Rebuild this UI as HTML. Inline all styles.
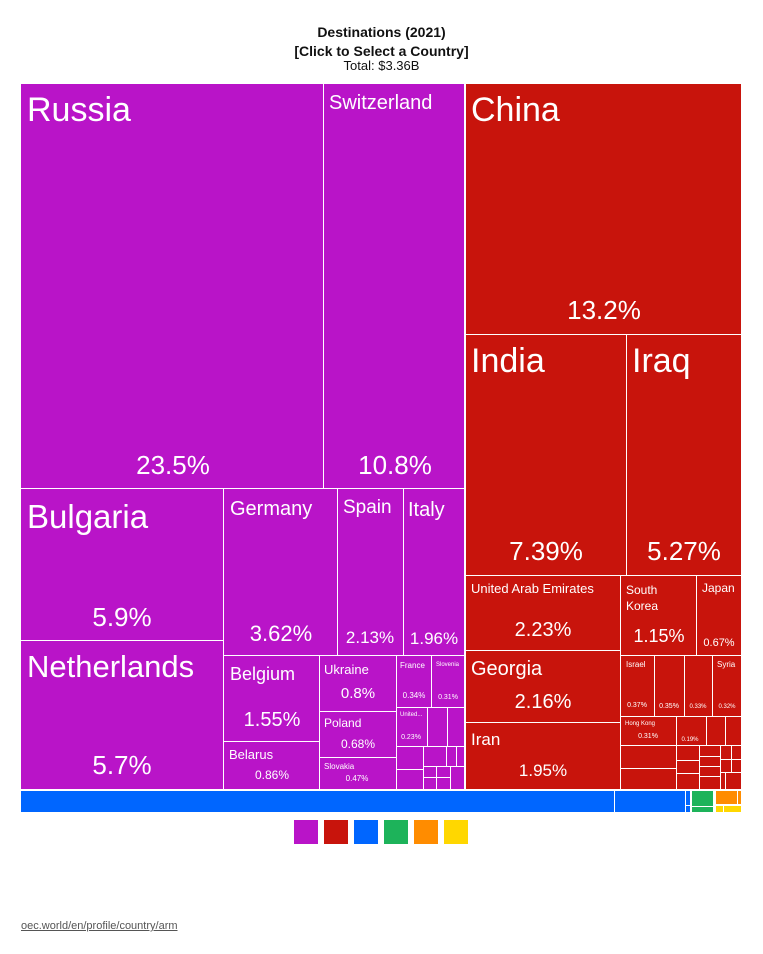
<!DOCTYPE html>
<html><head><meta charset="utf-8"><style>
body{margin:0;width:763px;height:954px;background:#fff;position:relative;font-family:"Liberation Sans",sans-serif;overflow:hidden}
.c{position:absolute}
.p{background:#b914c8}.r{background:#c8140c}.b{background:#0066ff}.g{background:#1db35a}.o{background:#ff8c00}.y{background:#ffd700}
.t{position:absolute;color:#fff;white-space:nowrap;line-height:1}
.m{position:absolute;color:#fff;white-space:nowrap;line-height:1;transform:translateX(-50%)}
</style></head><body>
<div class="t" style="color:#111;font-weight:bold;font-size:14px;left:0;width:763px;text-align:center;top:25px">Destinations (2021)</div>
<div class="t" style="color:#111;font-weight:bold;font-size:14px;left:0;width:763px;text-align:center;top:44px">[Click to Select a Country]</div>
<div class="t" style="color:#111;font-size:13px;left:0;width:763px;text-align:center;top:59px">Total: $3.36B</div>

<!-- purple -->
<div class="c p" style="left:21px;top:84px;width:302px;height:404px"></div>
<div class="t" style="left:27px;top:93px;font-size:34px">Russia</div>
<div class="m" style="left:173px;top:452px;font-size:26px">23.5%</div>
<div class="c p" style="left:324px;top:84px;width:140px;height:404px"></div>
<div class="t" style="left:329px;top:93px;font-size:20px">Switzerland</div>
<div class="m" style="left:395px;top:452px;font-size:26px">10.8%</div>
<div class="c p" style="left:21px;top:489px;width:202px;height:151px"></div>
<div class="t" style="left:27px;top:500px;font-size:33px">Bulgaria</div>
<div class="m" style="left:122px;top:604px;font-size:26px">5.9%</div>
<div class="c p" style="left:21px;top:641px;width:202px;height:148px"></div>
<div class="t" style="left:27px;top:651px;font-size:31px">Netherlands</div>
<div class="m" style="left:122px;top:752px;font-size:26px">5.7%</div>
<div class="c p" style="left:224px;top:489px;width:113px;height:166px"></div>
<div class="t" style="left:230px;top:499px;font-size:20px">Germany</div>
<div class="m" style="left:281px;top:623px;font-size:22px">3.62%</div>
<div class="c p" style="left:338px;top:489px;width:65px;height:166px"></div>
<div class="t" style="left:343px;top:498px;font-size:19px">Spain</div>
<div class="m" style="left:370px;top:629px;font-size:17px">2.13%</div>
<div class="c p" style="left:404px;top:489px;width:60px;height:166px"></div>
<div class="t" style="left:408px;top:500px;font-size:20px">Italy</div>
<div class="m" style="left:434px;top:630px;font-size:17px">1.96%</div>
<div class="c p" style="left:224px;top:656px;width:95px;height:85px"></div>
<div class="t" style="left:230px;top:665px;font-size:18px">Belgium</div>
<div class="m" style="left:272px;top:710px;font-size:20px">1.55%</div>
<div class="c p" style="left:224px;top:742px;width:95px;height:47px"></div>
<div class="t" style="left:229px;top:748px;font-size:13px">Belarus</div>
<div class="m" style="left:272px;top:769px;font-size:12px">0.86%</div>
<div class="c p" style="left:320px;top:656px;width:76px;height:55px"></div>
<div class="t" style="left:324px;top:663px;font-size:13px">Ukraine</div>
<div class="m" style="left:358px;top:686px;font-size:15px">0.8%</div>
<div class="c p" style="left:320px;top:712px;width:76px;height:45px"></div>
<div class="t" style="left:324px;top:717px;font-size:12px">Poland</div>
<div class="m" style="left:358px;top:738px;font-size:12px">0.68%</div>
<div class="c p" style="left:320px;top:758px;width:76px;height:31px"></div>
<div class="t" style="left:324px;top:763px;font-size:8px">Slovakia</div>
<div class="m" style="left:357px;top:775px;font-size:8px">0.47%</div>
<div class="c p" style="left:397px;top:656px;width:34px;height:51px"></div>
<div class="t" style="left:400px;top:662px;font-size:8px">France</div>
<div class="m" style="left:414px;top:692px;font-size:8px">0.34%</div>
<div class="c p" style="left:432px;top:656px;width:32px;height:51px"></div>
<div class="t" style="left:436px;top:662px;font-size:6px">Slovenia</div>
<div class="m" style="left:448px;top:694px;font-size:7px">0.31%</div>
<div class="c p" style="left:397px;top:708px;width:30px;height:38px"></div>
<div class="t" style="left:400px;top:712px;font-size:6px">United...</div>
<div class="m" style="left:411px;top:734px;font-size:7px">0.23%</div>
<div class="c p" style="left:428px;top:708px;width:19px;height:38px"></div>
<div class="c p" style="left:448px;top:708px;width:16px;height:38px"></div>
<div class="c p" style="left:397px;top:747px;width:26px;height:22px"></div>
<div class="c p" style="left:397px;top:770px;width:26px;height:19px"></div>
<div class="c p" style="left:424px;top:747px;width:22px;height:19px"></div>
<div class="c p" style="left:447px;top:747px;width:9px;height:19px"></div>
<div class="c p" style="left:457px;top:747px;width:7px;height:19px"></div>
<div class="c p" style="left:424px;top:767px;width:12px;height:10px"></div>
<div class="c p" style="left:437px;top:767px;width:13px;height:10px"></div>
<div class="c p" style="left:451px;top:767px;width:13px;height:22px"></div>
<div class="c p" style="left:424px;top:778px;width:12px;height:11px"></div>
<div class="c p" style="left:437px;top:778px;width:13px;height:11px"></div>

<!-- red -->
<div class="c r" style="left:466px;top:84px;width:275px;height:250px"></div>
<div class="t" style="left:471px;top:93px;font-size:34px">China</div>
<div class="m" style="left:604px;top:297px;font-size:26px">13.2%</div>
<div class="c r" style="left:466px;top:335px;width:160px;height:240px"></div>
<div class="t" style="left:471px;top:344px;font-size:34px">India</div>
<div class="m" style="left:546px;top:538px;font-size:26px">7.39%</div>
<div class="c r" style="left:627px;top:335px;width:114px;height:240px"></div>
<div class="t" style="left:632px;top:344px;font-size:34px">Iraq</div>
<div class="m" style="left:684px;top:538px;font-size:26px">5.27%</div>
<div class="c r" style="left:466px;top:576px;width:154px;height:74px"></div>
<div class="t" style="left:471px;top:582px;font-size:13px">United Arab Emirates</div>
<div class="m" style="left:543px;top:620px;font-size:20px">2.23%</div>
<div class="c r" style="left:466px;top:651px;width:154px;height:71px"></div>
<div class="t" style="left:471px;top:659px;font-size:20px">Georgia</div>
<div class="m" style="left:543px;top:692px;font-size:20px">2.16%</div>
<div class="c r" style="left:466px;top:723px;width:154px;height:66px"></div>
<div class="t" style="left:471px;top:731px;font-size:17px">Iran</div>
<div class="m" style="left:543px;top:762px;font-size:17px">1.95%</div>
<div class="c r" style="left:621px;top:576px;width:75px;height:79px"></div>
<div class="t" style="left:626px;top:582px;font-size:12px;line-height:16px">South<br>Korea</div>
<div class="m" style="left:659px;top:627px;font-size:18px">1.15%</div>
<div class="c r" style="left:697px;top:576px;width:44px;height:79px"></div>
<div class="t" style="left:702px;top:582px;font-size:12px">Japan</div>
<div class="m" style="left:719px;top:638px;font-size:11px">0.67%</div>
<div class="c r" style="left:621px;top:656px;width:33px;height:60px"></div>
<div class="t" style="left:626px;top:661px;font-size:8px">Israel</div>
<div class="m" style="left:637px;top:702px;font-size:7px">0.37%</div>
<div class="c r" style="left:655px;top:656px;width:29px;height:60px"></div>
<div class="m" style="left:669px;top:703px;font-size:7px">0.35%</div>
<div class="c r" style="left:685px;top:656px;width:27px;height:60px"></div>
<div class="m" style="left:698px;top:704px;font-size:6px">0.33%</div>
<div class="c r" style="left:713px;top:656px;width:28px;height:60px"></div>
<div class="t" style="left:717px;top:661px;font-size:8px">Syria</div>
<div class="m" style="left:727px;top:704px;font-size:6px">0.32%</div>
<div class="c r" style="left:621px;top:717px;width:55px;height:28px"></div>
<div class="t" style="left:625px;top:721px;font-size:6px">Hong Kong</div>
<div class="m" style="left:648px;top:733px;font-size:7px">0.31%</div>
<div class="c r" style="left:677px;top:717px;width:29px;height:28px"></div>
<div class="m" style="left:690px;top:737px;font-size:6px">0.19%</div>
<div class="c r" style="left:707px;top:717px;width:18px;height:28px"></div>
<div class="c r" style="left:726px;top:717px;width:15px;height:28px"></div>
<div class="c r" style="left:621px;top:746px;width:55px;height:22px"></div>
<div class="c r" style="left:621px;top:769px;width:55px;height:20px"></div>
<div class="c r" style="left:677px;top:746px;width:22px;height:14px"></div>
<div class="c r" style="left:677px;top:761px;width:22px;height:12px"></div>
<div class="c r" style="left:677px;top:774px;width:22px;height:15px"></div>
<div class="c r" style="left:700px;top:746px;width:20px;height:10px"></div>
<div class="c r" style="left:700px;top:757px;width:20px;height:9px"></div>
<div class="c r" style="left:700px;top:767px;width:20px;height:9px"></div>
<div class="c r" style="left:700px;top:777px;width:20px;height:12px"></div>
<div class="c r" style="left:721px;top:746px;width:10px;height:13px"></div>
<div class="c r" style="left:732px;top:746px;width:9px;height:13px"></div>
<div class="c r" style="left:721px;top:760px;width:10px;height:12px"></div>
<div class="c r" style="left:732px;top:760px;width:9px;height:12px"></div>
<div class="c r" style="left:721px;top:773px;width:4px;height:16px"></div>
<div class="c r" style="left:726px;top:773px;width:15px;height:16px"></div>

<!-- bottom bar -->
<div class="c b" style="left:21px;top:791px;width:593px;height:21px"></div>
<div class="c b" style="left:615px;top:791px;width:70px;height:21px"></div>
<div class="c b" style="left:686px;top:791px;width:4px;height:14px"></div>
<div class="c b" style="left:686px;top:806px;width:4px;height:6px"></div>
<div class="c g" style="left:692px;top:791px;width:21px;height:15px"></div>
<div class="c g" style="left:692px;top:807px;width:21px;height:5px"></div>
<div class="c o" style="left:716px;top:791px;width:21px;height:13px"></div>
<div class="c o" style="left:738px;top:791px;width:3px;height:13px"></div>
<div class="c y" style="left:716px;top:806px;width:7px;height:6px"></div>
<div class="c y" style="left:724px;top:806px;width:17px;height:6px"></div>

<!-- legend -->
<div class="c p" style="left:294px;top:820px;width:24px;height:24px"></div>
<div class="c r" style="left:324px;top:820px;width:24px;height:24px"></div>
<div class="c b" style="left:354px;top:820px;width:24px;height:24px"></div>
<div class="c g" style="left:384px;top:820px;width:24px;height:24px"></div>
<div class="c o" style="left:414px;top:820px;width:24px;height:24px"></div>
<div class="c y" style="left:444px;top:820px;width:24px;height:24px"></div>

<div class="t" style="color:#555;font-size:11px;left:21px;top:921px;text-decoration:underline">oec.world/en/profile/country/arm</div>
</body></html>
